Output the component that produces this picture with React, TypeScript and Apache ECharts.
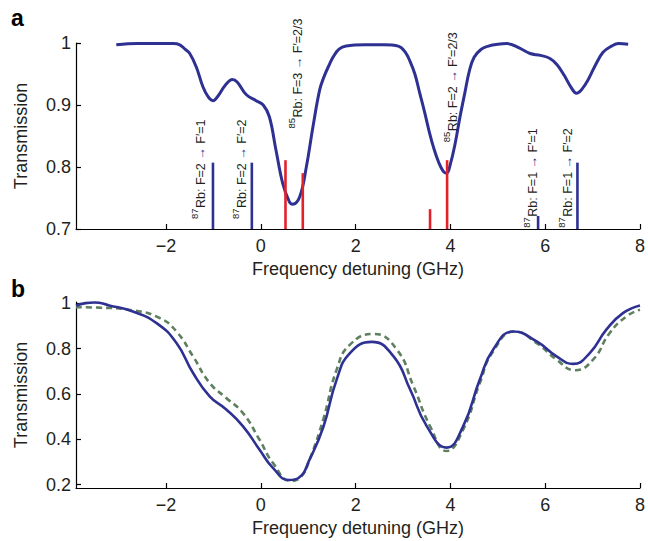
import React, { useEffect, useRef } from 'react';
import * as echarts from 'echarts';

const FONT = '"Liberation Sans", Arial, Helvetica, sans-serif';
const TEXT = '#231f20';
const NAVY = '#2e3192';
const RED = '#e3212b';
const GREEN = '#5e805f';

// axes
const X_MIN = -3.9;
const X_MAX = 8;
const X_TICKS = [-2, 0, 2, 4, 6, 8];
const A_Y_MIN = 0.7;
const A_Y_MAX = 1.0;
const A_Y_TICKS = [0.7, 0.8, 0.9, 1];
const B_Y_MIN = 0.185;
const B_Y_MAX = 1.005;
const B_Y_TICKS = [0.2, 0.4, 0.6, 0.8, 1];

// panel a: measured transmission [detuning GHz, transmission]
const measuredA: [number, number][] = [
  [-3.05, 0.997], [-2.6, 0.999], [-2.2, 0.999], [-1.85, 0.999], [-1.71, 0.997],
  [-1.6, 0.99], [-1.5, 0.983], [-1.36, 0.961], [-1.22, 0.929], [-1.11, 0.913],
  [-1.01, 0.907], [-0.9, 0.915], [-0.75, 0.932], [-0.6, 0.941], [-0.5, 0.937],
  [-0.31, 0.917], [-0.1, 0.907], [0.05, 0.9], [0.18, 0.881], [0.32, 0.827],
  [0.46, 0.774], [0.6, 0.744], [0.67, 0.74], [0.82, 0.752], [0.96, 0.8],
  [1.1, 0.865], [1.24, 0.924], [1.33, 0.945], [1.45, 0.966], [1.53, 0.978],
  [1.65, 0.99], [1.8, 0.995], [2.2, 0.997], [2.6, 0.997], [2.9, 0.995],
  [3.05, 0.985], [3.15, 0.97], [3.25, 0.95], [3.35, 0.92], [3.45, 0.89],
  [3.55, 0.858], [3.65, 0.83], [3.75, 0.808], [3.85, 0.793], [3.92, 0.79],
  [4.0, 0.805], [4.1, 0.838], [4.2, 0.88], [4.3, 0.918], [4.4, 0.955],
  [4.5, 0.977], [4.65, 0.99], [4.8, 0.995], [5.0, 0.998], [5.2, 0.999],
  [5.45, 0.992], [5.68, 0.983], [5.9, 0.98], [6.1, 0.975], [6.25, 0.965],
  [6.4, 0.948], [6.55, 0.928], [6.66, 0.919], [6.78, 0.926], [6.9, 0.94],
  [7.05, 0.963], [7.22, 0.985], [7.4, 0.995], [7.55, 0.999], [7.75, 0.998],
];

// transition lines [detuning GHz, line height]
const rb87Lines: [number, number][] = [
  [-1.01, 0.807], [-0.19, 0.807], [5.85, 0.721], [6.68, 0.807],
];
const rb85Lines: [number, number][] = [
  [0.52, 0.811], [0.885, 0.79], [3.57, 0.732], [3.93, 0.811],
];

// transition labels
const labelIsotopes = ['87', '87', '85', '85', '87', '87'];
const labelLower = ['F=2', 'F=2', 'F=3', 'F=2', 'F=1', 'F=1'];
const labelUpper = ['F′=1', 'F′=2', 'F′=2/3', 'F′=2/3', 'F′=1', 'F′=2'];
const labelAnchors: [number, number][] = [
  [-1.13, 0.716], [-0.27, 0.716], [0.93, 0.862], [4.2, 0.84], [5.88, 0.702], [6.62, 0.702],
];

// panel b: model curves
const modelSolid: [number, number][] = [
  [-3.9, 0.99], [-3.7, 1.0], [-3.51, 1.003], [-3.2, 0.99], [-2.7, 0.963],
  [-2.2, 0.912], [-1.78, 0.824], [-1.43, 0.692], [-1.08, 0.589], [-0.73, 0.531],
  [-0.38, 0.458], [-0.03, 0.355], [0.25, 0.275], [0.6, 0.22], [0.8, 0.23],
  [1.03, 0.311], [1.32, 0.455], [1.6, 0.663], [1.88, 0.78], [2.34, 0.829],
  [2.8, 0.765], [3.15, 0.619], [3.5, 0.458], [3.92, 0.363], [4.27, 0.458],
  [4.62, 0.663], [4.9, 0.795], [5.33, 0.875], [5.82, 0.831], [6.24, 0.765],
  [6.59, 0.732], [6.94, 0.78], [7.29, 0.883], [7.64, 0.956], [8.0, 0.99],
];
const modelDashed: [number, number][] = [
  [-3.9, 0.982], [-3.4, 0.98], [-2.7, 0.968], [-2.13, 0.934], [-1.78, 0.875],
  [-1.43, 0.765], [-1.08, 0.648], [-0.73, 0.582], [-0.38, 0.516], [-0.03, 0.399],
  [0.25, 0.297], [0.64, 0.216], [0.85, 0.235], [1.03, 0.311], [1.32, 0.49],
  [1.6, 0.707], [1.88, 0.817], [2.38, 0.864], [2.87, 0.795], [3.22, 0.634],
  [3.57, 0.458], [3.92, 0.348], [4.27, 0.443], [4.62, 0.648], [4.9, 0.787],
  [5.36, 0.875], [5.82, 0.824], [6.24, 0.751], [6.63, 0.704], [7.01, 0.751],
  [7.36, 0.868], [7.71, 0.941], [8.0, 0.971],
];

const SUP_SIZE = 9.5;
const MAIN_SIZE = 12.5;
const SUP_RAISE = 8;

function measure(text: string, size: number): number {
  const c = document.createElement('canvas').getContext('2d');
  if (!c) return text.length * size * 0.556;
  c.font = `${size}px ${FONT}`;
  return c.measureText(text).width;
}

function xAxis(gridIndex: number) {
  return {
    type: 'value',
    gridIndex,
    min: X_MIN,
    max: X_MAX,
    name: 'Frequency detuning (GHz)',
    nameLocation: 'middle',
    nameGap: 31,
    nameTextStyle: { fontSize: 18, color: TEXT, fontFamily: FONT },
    axisLine: { show: true, onZero: false, lineStyle: { color: '#000', width: 1.2 } },
    axisTick: { show: true, inside: true, length: 5, customValues: X_TICKS, lineStyle: { color: '#000', width: 1.2 } },
    axisLabel: {
      fontSize: 18, color: TEXT, fontFamily: FONT, margin: 8,
      customValues: X_TICKS,
      formatter: (v: number) => String(v).replace('-', '−'),
    },
    splitLine: { show: false },
  };
}

function yAxis(gridIndex: number, min: number, max: number, ticks: number[]) {
  return {
    type: 'value',
    gridIndex,
    min,
    max,
    name: 'Transmission',
    nameLocation: 'middle',
    nameRotate: 90,
    nameGap: 46,
    nameTextStyle: { fontSize: 18, color: TEXT, fontFamily: FONT },
    axisLine: { show: true, onZero: false, lineStyle: { color: '#000', width: 1.2 } },
    axisTick: { show: true, inside: true, length: 5, customValues: ticks, lineStyle: { color: '#000', width: 1.2 } },
    axisLabel: {
      fontSize: 18, color: TEXT, fontFamily: FONT, margin: 5,
      customValues: ticks,
      formatter: (v: number) => (Math.abs(v - 1) < 1e-9 ? '1' : v.toFixed(1)),
    },
    splitLine: { show: false },
  };
}

function barSeries(data: [number, number][], color: string) {
  return {
    type: 'custom',
    xAxisIndex: 0,
    yAxisIndex: 0,
    data,
    z: 5,
    renderItem: (_p: any, api: any) => {
      const x = api.value(0);
      const top = api.value(1);
      const p0 = api.coord([x, A_Y_MIN]);
      const p1 = api.coord([x, top]);
      return {
        type: 'line',
        shape: { x1: p0[0], y1: p0[1], x2: p1[0], y2: p1[1] },
        style: { stroke: color, lineWidth: 2.6 },
      };
    },
  };
}

export default function App() {
  const ref = useRef<HTMLDivElement>(null);
  useEffect(() => {
    if (!ref.current) return;
    const chart = echarts.init(ref.current, undefined, { renderer: 'svg' });
    const supW = measure('87', SUP_SIZE);
    chart.setOption({
      animation: false,
      backgroundColor: '#fff',
      grid: [
        { left: 76, top: 43, width: 565, height: 186, containLabel: false },
        { left: 76, top: 302, width: 565, height: 186, containLabel: false },
      ],
      xAxis: [xAxis(0), xAxis(1)],
      yAxis: [yAxis(0, A_Y_MIN, A_Y_MAX, A_Y_TICKS), yAxis(1, B_Y_MIN, B_Y_MAX, B_Y_TICKS)],
      graphic: [
        { type: 'text', left: 11, top: 6, style: { text: 'a', font: `bold 23px ${FONT}`, fill: '#000' } },
        { type: 'text', left: 11, top: 277, style: { text: 'b', font: `bold 23px ${FONT}`, fill: '#000' } },
      ],
      series: [
        {
          type: 'line',
          xAxisIndex: 0,
          yAxisIndex: 0,
          data: measuredA,
          showSymbol: false,
          smooth: 0.4,
          lineStyle: { color: NAVY, width: 3 },
          z: 3,
        },
        barSeries(rb87Lines, NAVY),
        barSeries(rb85Lines, RED),
        {
          type: 'custom',
          xAxisIndex: 0,
          yAxisIndex: 0,
          clip: false,
          z: 6,
          data: labelAnchors,
          renderItem: (params: any, api: any) => {
            const i = params.dataIndex;
            const p = api.coord([api.value(0), api.value(1)]);
            return {
              type: 'group',
              x: p[0],
              y: p[1],
              rotation: Math.PI / 2,
              children: [
                {
                  type: 'text',
                  x: 0,
                  y: -SUP_RAISE,
                  style: {
                    text: labelIsotopes[i], fontSize: SUP_SIZE, fontFamily: FONT, fill: TEXT,
                    align: 'left', verticalAlign: 'bottom',
                  },
                },
                {
                  type: 'text',
                  x: supW + 0.5,
                  y: 0,
                  style: {
                    text: `{t|Rb: ${labelLower[i]} }{a|→}{t| ${labelUpper[i]}}`,
                    rich: {
                      t: { fontSize: MAIN_SIZE, fontFamily: FONT, fill: TEXT, color: TEXT },
                      a: { fontSize: MAIN_SIZE, fontFamily: FONT, fill: NAVY, color: NAVY },
                    },
                    fontSize: MAIN_SIZE, fontFamily: FONT, fill: TEXT,
                    align: 'left', verticalAlign: 'bottom',
                  },
                },
              ],
            };
          },
        },
        {
          type: 'line',
          xAxisIndex: 1,
          yAxisIndex: 1,
          data: modelSolid,
          showSymbol: false,
          smooth: 0.5,
          lineStyle: { color: NAVY, width: 2.6 },
          z: 4,
        },
        {
          type: 'line',
          xAxisIndex: 1,
          yAxisIndex: 1,
          data: modelDashed,
          showSymbol: false,
          smooth: 0.5,
          lineStyle: { color: GREEN, width: 2.6, type: [6, 4] },
          z: 3,
        },
      ],
    });
    return () => chart.dispose();
  }, []);
  return (
    <div
      ref={ref}
      style={{ position: 'absolute', left: 0, top: 0, width: 648, height: 541 }}
    />
  );
}
